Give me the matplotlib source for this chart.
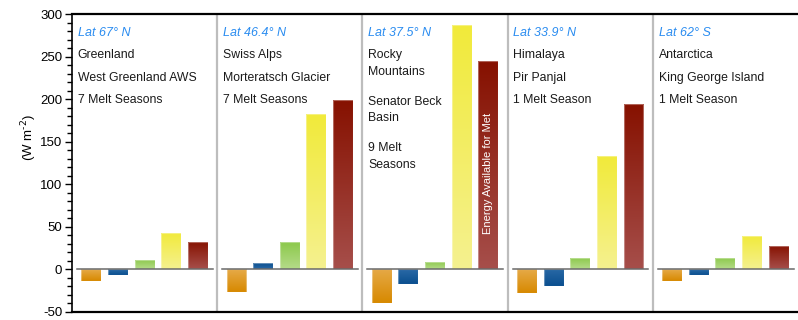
import numpy as np
import matplotlib as mpl
mpl.use('Agg')
from matplotlib import pyplot as plt
from matplotlib.colors import LinearSegmentedColormap

plt.rcParams['font.family'] = ['Liberation Sans', 'DejaVu Sans']
plt.rcParams['axes.unicode_minus'] = False

# Mean melt-season energy fluxes per site (W m-2)
latitudes = ['Lat 67° N', 'Lat 46.4° N', 'Lat 37.5° N', 'Lat 33.9° N', 'Lat 62° S']
site_lines = [
    ['Greenland', 'West Greenland AWS', '7 Melt Seasons'],
    ['Swiss Alps', 'Morteratsch Glacier', '7 Melt Seasons'],
    ['Rocky\nMountains', 'Senator Beck\nBasin', '9 Melt\nSeasons'],
    ['Himalaya', 'Pir Panjal', '1 Melt Season'],
    ['Antarctica', 'King George Island', '1 Melt Season'],
]
flux_a = [-13, -27, -40, -28, -13]
flux_b = [-7, 7, -17, -20, -7]
flux_c = [11, 32, 9, 13, 13]
flux_d = [43, 183, 287, 133, 39]
melt_energy = [32, 199, 245, 194, 28]
series = [flux_a, flux_b, flux_c, flux_d, melt_energy]

# (far-from-zero colour, near-zero colour) for each series
gradients = [
    ('#D78900', '#E6AA48'),
    ('#0A4F8F', '#2A69A6'),
    ('#8AC849', '#B5DB89'),
    ('#F1EA3A', '#F5F18F'),
    ('#861100', '#A64E4A'),
]

fig = plt.figure(figsize=(7.98, 3.2), dpi=100)
ax = fig.add_axes([0.0902, 0.025, 0.9098, 0.931])

n_sites = len(latitudes)
spacing = 0.1835
width = 0.1375

for k, (vals, (dark, light)) in enumerate(zip(series, gradients)):
    xs = np.arange(n_sites) + 0.5 + (k - 2) * spacing
    bars = ax.bar(xs, vals, width=width, color='none', edgecolor='none', zorder=2)
    cmap = LinearSegmentedColormap.from_list('g', [light, dark])
    for bar, v in zip(bars, vals):
        grad = np.linspace(0, 1, 100).reshape(-1, 1)
        x0 = bar.get_x()
        y_lo, y_hi = (0, v) if v >= 0 else (v, 0)
        img = grad if v >= 0 else grad[::-1]
        im = ax.imshow(img, cmap=cmap, aspect='auto', origin='lower',
                       extent=(x0, x0 + width, y_lo, y_hi), zorder=2,
                       interpolation='bicubic')
        im.set_clip_path(bar)
        ax.add_patch(plt.Rectangle((x0, y_lo), width, y_hi - y_lo, fill=False,
                                   edgecolor='white', alpha=0.35, lw=0.8, zorder=3))

# zero line and panel separators
for i in range(n_sites):
    ax.plot([i + 0.035, i + 0.97], [0, 0], color='#6a6a6a', lw=1.1, zorder=4)
for i in range(1, n_sites):
    ax.axvline(i, color='#bdbdbd', lw=1.6, zorder=1)

# panel captions
for i in range(n_sites):
    ax.text(i + 0.04, 0.938, latitudes[i], transform=ax.get_xaxis_transform(),
            color='#2a8cf0', style='italic', fontsize=9, va='center', ha='left')
    if i == 2:
        ys = [0.834, 0.678, 0.522]
    else:
        ys = [0.862, 0.787, 0.712]
    for y, line in zip(ys, site_lines[i]):
        ax.text(i + 0.04, y, line, transform=ax.get_xaxis_transform(),
                color='#1a1a1a', fontsize=8.8, va='center', ha='left',
                linespacing=1.55)

# label inside the tallest melt-energy bar
x_lab = 2 + 0.5 + 2 * spacing
ax.text(x_lab, 113, 'Energy Available for Met', rotation=90,
        color='white', fontsize=8, ha='center', va='center', zorder=5)

ax.set_xlim(0, n_sites)
ax.set_ylim(-50, 300)
ax.set_xticks([])
ax.set_yticks(np.arange(-50, 301, 50))
ax.set_yticks(np.arange(-50, 301, 10), minor=True)
ax.tick_params(axis='y', which='major', length=5, width=1, labelsize=9.5, pad=2)
ax.tick_params(axis='y', which='minor', length=3.5, width=1)
ax.set_ylabel(r'(W m$^{\text{-2}}$)', fontsize=9.5)
ax.yaxis.set_label_coords(-0.046, 0.587)

ax.spines['right'].set_visible(False)
ax.spines['left'].set_linewidth(1.2)
ax.spines['top'].set_linewidth(1.6)
ax.spines['bottom'].set_linewidth(1.6)

fig.savefig('out.png', dpi=100)
